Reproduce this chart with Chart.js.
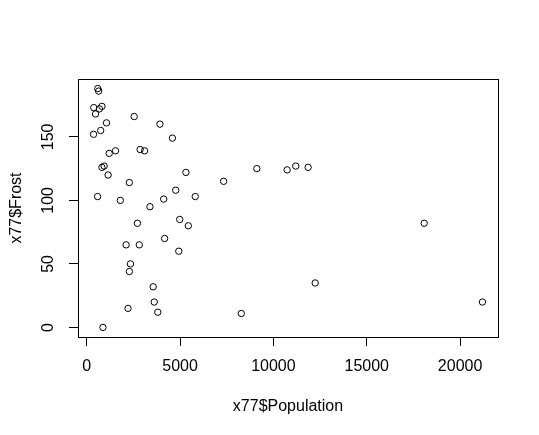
<!DOCTYPE html>
<html>
<head>
<meta charset="utf-8">
<script src="https://cdn.jsdelivr.net/npm/chart.js@4"></script>
<style>
  html, body { margin: 0; padding: 0; background: #fff; }
  #wrap { width: 539px; height: 435px; }
</style>
</head>
<body>
<div id="wrap"><canvas id="frostChart" width="539" height="435"></canvas></div>
<script>
// state.x77 : Population (thousands) and Frost (days)
const states = ['Alabama','Alaska','Arizona','Arkansas','California','Colorado','Connecticut','Delaware','Florida','Georgia',
  'Hawaii','Idaho','Illinois','Indiana','Iowa','Kansas','Kentucky','Louisiana','Maine','Maryland',
  'Massachusetts','Michigan','Minnesota','Mississippi','Missouri','Montana','Nebraska','Nevada','New Hampshire','New Jersey',
  'New Mexico','New York','North Carolina','North Dakota','Ohio','Oklahoma','Oregon','Pennsylvania','Rhode Island','South Carolina',
  'South Dakota','Tennessee','Texas','Utah','Vermont','Virginia','Washington','West Virginia','Wisconsin','Wyoming'];
const population = [3615,365,2212,2110,21198,2541,3100,579,8277,4931,
  868,813,11197,5313,2861,2280,3387,3806,1058,4122,
  5814,9111,3921,2341,4767,746,1544,590,812,7333,
  1144,18076,5441,637,10735,2715,2284,11860,931,2816,
  681,4173,12237,1203,472,4981,3559,1799,4589,376];
const frost = [20,152,15,65,20,166,139,103,11,60,
  0,126,127,122,140,114,95,12,161,101,
  103,125,160,50,108,155,139,188,174,115,
  120,82,80,186,124,82,44,126,127,65,
  172,70,35,137,168,85,32,100,149,173];
const xTicks = [0, 5000, 10000, 15000, 20000];
const yTicks = [0, 50, 100, 150];
const xLabel = 'x77$Population';
const yLabel = 'x77$Frost';

const points = population.map((p, i) => ({ x: p, y: frost[i] }));

// R style range: data range extended by 4%
function rRange(arr) {
  const lo = Math.min(...arr), hi = Math.max(...arr), d = (hi - lo) * 0.04;
  return [lo - d, hi + d];
}
const [xMin, xMax] = rRange(population);
const [yMin, yMax] = rRange(frost);

const font = '16px "Liberation Sans", Arial, sans-serif';

// box, tick labels and axis titles like base R
const rDecor = {
  id: 'rDecor',
  afterDraw(chart) {
    const ctx = chart.ctx;
    const a = chart.chartArea;
    const xs = chart.scales.x, ys = chart.scales.y;
    ctx.save();
    ctx.strokeStyle = '#000';
    ctx.lineWidth = 1;
    ctx.strokeRect(Math.round(a.left) + 0.5, Math.round(a.top) + 0.5,
      Math.round(a.right - a.left), Math.round(a.bottom - a.top));
    ctx.fillStyle = '#000';
    ctx.font = font;
    ctx.textAlign = 'center';
    ctx.textBaseline = 'middle';
    xTicks.forEach(v => ctx.fillText(String(v), xs.getPixelForValue(v), a.bottom + 30));
    ctx.fillText(xLabel, (a.left + a.right) / 2, a.bottom + 70);
    yTicks.forEach(v => {
      ctx.save();
      ctx.translate(a.left - 29, ys.getPixelForValue(v));
      ctx.rotate(-Math.PI / 2);
      ctx.fillText(String(v), 0, 0);
      ctx.restore();
    });
    ctx.save();
    ctx.translate(a.left - 61, (a.top + a.bottom) / 2);
    ctx.rotate(-Math.PI / 2);
    ctx.fillText(yLabel, 0, 0);
    ctx.restore();
    ctx.restore();
  }
};

const ctx = document.getElementById('frostChart').getContext('2d');
new Chart(ctx, {
  type: 'scatter',
  data: {
    datasets: [{
      data: points,
      pointStyle: 'circle',
      pointRadius: 3.2,
      pointHoverRadius: 3.2,
      borderColor: '#000',
      backgroundColor: 'rgba(0,0,0,0)',
      borderWidth: 1,
      clip: false
    }]
  },
  options: {
    responsive: false,
    animation: false,
    events: [],
    layout: { padding: { top: 79, right: 41, left: 0, bottom: 0 } },
    plugins: { legend: { display: false }, tooltip: { enabled: false } },
    scales: {
      x: {
        type: 'linear',
        min: xMin,
        max: xMax,
        afterBuildTicks: s => { s.ticks = xTicks.map(v => ({ value: v })); },
        afterFit: s => { s.height = 98; },
        ticks: { display: false },
        border: { display: false },
        grid: { drawOnChartArea: false, drawTicks: true, tickLength: 9, color: '#000', lineWidth: 1 }
      },
      y: {
        type: 'linear',
        min: yMin,
        max: yMax,
        afterBuildTicks: s => { s.ticks = yTicks.map(v => ({ value: v })); },
        afterFit: s => { s.width = 78; },
        ticks: { display: false },
        border: { display: false },
        grid: { drawOnChartArea: false, drawTicks: true, tickLength: 9, color: '#000', lineWidth: 1 }
      }
    }
  },
  plugins: [rDecor]
});
</script>
</body>
</html>
